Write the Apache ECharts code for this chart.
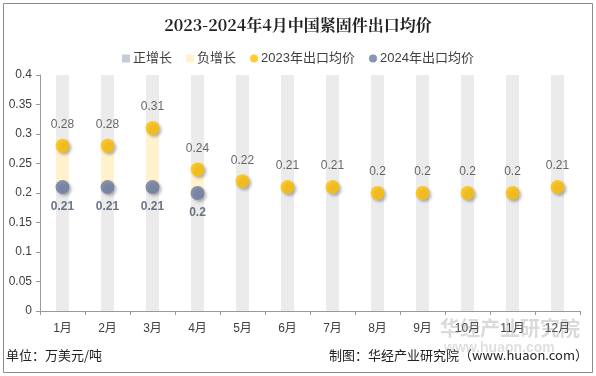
<!DOCTYPE html>
<html>
<head>
<meta charset="utf-8">
<title></title>
<script type="text/javascript" src="https://cdn.jsdelivr.net/npm/echarts@6/dist/echarts.min.js"></script>
<style>body{margin:0;background:#fff;}</style>
</head>
<body>
<div id="main" style="width:596px;height:376px;"></div>
<script type="text/javascript">
var months = ['1月','2月','3月','4月','5月','6月','7月','8月','9月','10月','11月','12月'];
var price2023 = [0.28,0.28,0.31,0.24,0.22,0.21,0.21,0.2,0.2,0.2,0.2,0.21];
var price2024 = [0.21,0.21,0.21,0.2];
var yTicks = [0,0.05,0.1,0.15,0.2,0.25,0.3,0.35,0.4];

// 浮动柱：底部透明 + 差值（正增长/负增长）
var base = [], posGrowth = [], negGrowth = [], bgCol = [];
for (var i = 0; i < months.length; i++) {
    bgCol.push(yTicks[yTicks.length - 1]);
    if (i < price2024.length) {
        var a = price2023[i], b = price2024[i];
        base.push(Math.min(a, b));
        posGrowth.push(b > a ? +(b - a).toFixed(3) : 0);
        negGrowth.push(b < a ? +(a - b).toFixed(3) : 0);
    } else {
        base.push('-'); posGrowth.push('-'); negGrowth.push('-');
    }
}

var myChart = echarts.init(document.getElementById('main'));
var txt = '#404040';
var dotShadow = {shadowBlur: 3, shadowOffsetX: 2, shadowOffsetY: 2, shadowColor: 'rgba(0,0,0,0.35)'};

myChart.setOption({
    animation: false,
    textStyle: {fontFamily: 'Arial, "Liberation Sans", "Noto Sans CJK SC", sans-serif'},
    title: {
        text: '2023-2024年4月中国紧固件出口均价',
        left: 'center', top: 12,
        textStyle: {fontSize: 16, fontWeight: 'bold', color: '#222', fontFamily: '"Noto Serif CJK SC", "Liberation Serif", "Noto Sans CJK SC", serif'}
    },
    legend: {
        top: 47, left: 'center', itemGap: 14, itemWidth: 8, itemHeight: 8,
        textStyle: {fontSize: 13, color: txt, padding: [0, 0, 0, -2]},
        data: [
            {name: '正增长', icon: 'rect', itemStyle: {color: '#c4cbd9'}},
            {name: '负增长', icon: 'rect', itemStyle: {color: '#fff2cc'}},
            {name: '2023年出口均价', icon: 'circle', itemStyle: {color: '#ffc000'}},
            {name: '2024年出口均价', icon: 'circle', itemStyle: {color: '#6a7ba2'}}
        ]
    },
    grid: {left: 40, right: 16, top: 75, bottom: 65},
    xAxis: {
        type: 'category', data: months,
        axisLine: {lineStyle: {color: '#999'}},
        axisTick: {show: true, length: 4, lineStyle: {color: '#999'}},
        axisLabel: {color: txt, fontSize: 12, margin: 12}
    },
    yAxis: {
        type: 'value', min: 0, max: 0.4, interval: 0.05,
        axisLine: {show: true, lineStyle: {color: '#999'}},
        axisTick: {show: true, length: 4, lineStyle: {color: '#999'}},
        splitLine: {show: false},
        axisLabel: {color: txt, fontSize: 12, margin: 8,
            formatter: function (v) { return +v.toFixed(2); }}
    },
    series: [
        {name: 'bg', type: 'bar', data: bgCol, barWidth: 13, barGap: '-100%', silent: true, z: 1,
            itemStyle: {color: '#ebebeb'}},
        {name: 'base', type: 'bar', stack: 'g', data: base, barWidth: 13, silent: true, z: 2,
            itemStyle: {color: 'transparent'}},
        {name: '正增长', type: 'bar', stack: 'g', data: posGrowth, barWidth: 13, z: 2,
            itemStyle: {color: '#c4cbd9'}},
        {name: '负增长', type: 'bar', stack: 'g', data: negGrowth, barWidth: 13, z: 2,
            itemStyle: {color: '#fff2cc'}},
        {name: '2023年出口均价', type: 'scatter', data: price2023, symbolSize: 14, z: 5,
            itemStyle: Object.assign({color: '#ffc000'}, dotShadow),
            label: {show: true, position: 'top', distance: 8, color: txt, fontSize: 12}},
        {name: '2024年出口均价', type: 'scatter', data: price2024, symbolSize: 14, z: 6,
            itemStyle: Object.assign({color: '#6a7ba2'}, dotShadow),
            label: {show: true, position: 'bottom', distance: 7, color: '#44546a', fontSize: 12, fontWeight: 'bold'}}
    ],
    graphic: [
        {type: 'rect', shape: {x: 3.5, y: 3.5, width: 589, height: 369}, silent: true,
            style: {fill: 'none', stroke: '#8c8c8c', lineWidth: 1}},
        {type: 'text', left: 6, top: 349, silent: true,
            style: {text: '单位：万美元/吨', fontSize: 13, fill: '#222', fontFamily: '"Noto Sans CJK SC", sans-serif'}},
        {type: 'text', right: 8, top: 349, silent: true,
            style: {text: '制图：华经产业研究院（www.huaon.com）', fontSize: 13, fill: '#222', fontFamily: '"Noto Sans CJK SC", sans-serif'}},
        {type: 'text', left: 440, top: 318, silent: true, z: 10,
            style: {text: '华经产业研究院', fontSize: 20, fontWeight: 'bold', fill: 'rgba(150,150,150,0.35)', fontFamily: '"Noto Sans CJK SC", sans-serif'}},
        {type: 'text', left: 444, top: 341, silent: true, z: 10,
            style: {text: 'www.huaon.com', fontSize: 14, fontWeight: 'bold', fill: 'rgba(150,150,150,0.3)', fontFamily: 'Arial, sans-serif'}}
    ]
});
</script>
</body>
</html>
